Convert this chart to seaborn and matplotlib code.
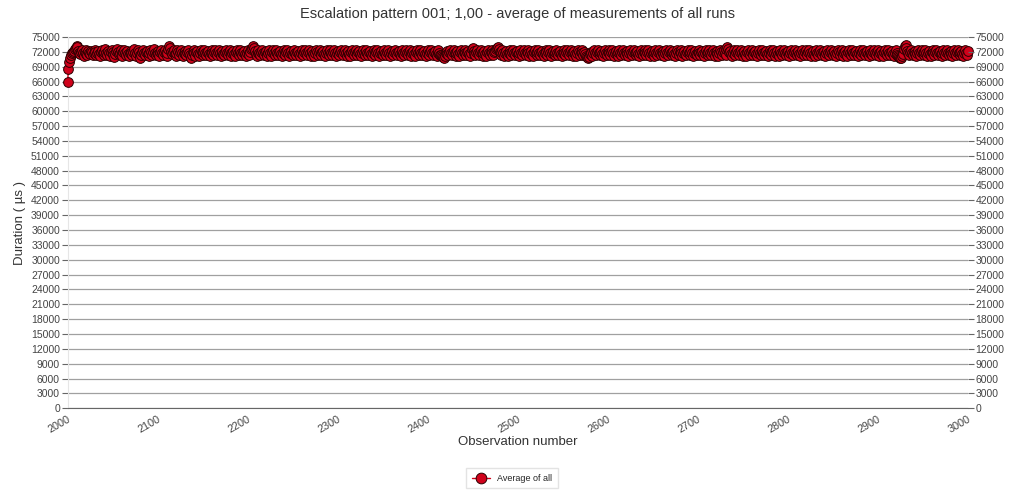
import numpy as np
import pandas as pd
import matplotlib
matplotlib.use("Agg")
import matplotlib.pyplot as plt
import seaborn as sns

# Average duration per observation, in units of 100 µs
duration_hundreds = [
    660, 685, 700, 708, 713, 717, 720, 722, 725, 728, 731, 729, 722, 718, 715, 720, 723, 717, 712, 719, 724, 716, 713, 721, 718,
    715, 722, 719, 713, 717, 724, 720, 714, 718, 722, 716, 711, 719, 723, 717, 713, 720, 725, 718, 714, 721, 717, 712, 720, 724,
    719, 713, 709, 716, 722, 726, 720, 715, 718, 723, 717, 712, 719, 724, 718, 714, 721, 716, 711, 718, 722, 717, 713, 720, 725,
    718, 712, 717, 723, 719, 714, 708, 713, 720, 724, 717, 713, 719, 722, 716, 711, 718, 723, 719, 714, 720, 725, 718, 713, 717,
    722, 716, 712, 719, 724, 718, 713, 720, 723, 717, 711, 718, 726, 731, 727, 720, 715, 719, 723, 716, 712, 718, 724, 719, 714,
    720, 723, 717, 712, 718, 722, 716, 713, 719, 724, 718, 714, 708, 713, 720, 723, 717, 712, 719, 722, 716, 711, 718, 723, 719,
    714, 720, 724, 718, 713, 719, 722, 716, 712, 718, 723, 717, 713, 720, 724, 718, 714, 719, 723, 717, 712, 718, 722, 716, 713,
    719, 724, 718, 714, 720, 723, 717, 712, 718, 722, 716, 711, 719, 724, 718, 713, 720, 723, 717, 713, 719, 722, 716, 712, 718,
    723, 717, 713, 720, 725, 728, 731, 727, 721, 716, 712, 718, 723, 717, 713, 719, 724, 718, 714, 720, 722, 716, 711, 718, 723,
    717, 712, 719, 724, 718, 714, 720, 723, 717, 713, 719, 722, 716, 711, 718, 724, 719, 714, 720, 723, 717, 712, 718, 722, 716,
    713, 719, 724, 718, 714, 720, 722, 716, 712, 718, 723, 717, 713, 719, 724, 718, 713, 720, 723, 717, 712, 719, 722, 716, 711,
    718, 723, 719, 714, 720, 724, 718, 713, 719, 722, 716, 712, 718, 723, 717, 713, 720, 724, 718, 714, 719, 723, 717, 712, 718,
    722, 716, 713, 719, 724, 718, 714, 720, 723, 717, 712, 718, 722, 716, 711, 719, 724, 718, 713, 720, 723, 717, 713, 719, 722,
    716, 712, 718, 723, 717, 714, 720, 724, 718, 713, 719, 722, 716, 712, 718, 724, 719, 714, 720, 723, 717, 712, 718, 722, 716,
    713, 719, 724, 718, 714, 720, 723, 717, 711, 718, 722, 716, 713, 719, 724, 718, 714, 720, 722, 716, 712, 718, 723, 717, 713,
    719, 724, 718, 714, 720, 723, 717, 712, 718, 722, 716, 711, 719, 724, 718, 713, 720, 723, 717, 713, 719, 722, 716, 712, 718,
    723, 717, 713, 719, 724, 718, 714, 720, 722, 716, 712, 718, 723, 717, 713, 714, 711, 709, 708, 712, 718, 722, 716, 713, 719,
    724, 718, 714, 720, 723, 717, 712, 718, 722, 716, 711, 719, 724, 718, 713, 720, 723, 717, 713, 719, 722, 716, 712, 718, 726,
    728, 722, 716, 713, 719, 724, 718, 714, 720, 723, 717, 712, 718, 722, 716, 711, 719, 724, 718, 713, 720, 723, 717, 713, 719,
    722, 725, 728, 730, 726, 719, 714, 720, 723, 717, 712, 718, 722, 716, 712, 718, 723, 717, 713, 719, 724, 718, 714, 720, 722,
    716, 712, 718, 723, 717, 713, 719, 724, 718, 713, 720, 723, 717, 712, 718, 722, 716, 711, 719, 724, 718, 714, 720, 723, 717,
    713, 719, 722, 716, 712, 718, 724, 719, 714, 720, 723, 717, 712, 718, 722, 716, 713, 719, 724, 718, 714, 720, 722, 716, 712,
    718, 723, 717, 713, 719, 724, 718, 713, 720, 723, 717, 712, 719, 722, 716, 711, 718, 723, 719, 714, 720, 724, 718, 713, 719,
    716, 711, 709, 707, 710, 715, 720, 717, 712, 718, 723, 717, 713, 719, 724, 718, 714, 720, 722, 716, 712, 718, 723, 717, 713,
    719, 724, 718, 714, 720, 723, 717, 712, 718, 722, 716, 711, 719, 724, 718, 713, 720, 723, 717, 713, 719, 722, 716, 712, 718,
    723, 717, 713, 719, 724, 718, 714, 720, 722, 716, 712, 718, 723, 717, 713, 719, 724, 718, 714, 720, 723, 717, 712, 718, 722,
    716, 711, 719, 724, 718, 713, 720, 723, 717, 713, 719, 722, 716, 712, 718, 723, 717, 714, 720, 724, 718, 713, 719, 722, 716,
    712, 718, 724, 719, 714, 720, 723, 717, 712, 718, 722, 716, 713, 719, 724, 718, 714, 720, 723, 717, 711, 718, 722, 716, 713,
    719, 724, 718, 714, 720, 722, 716, 712, 718, 723, 717, 713, 719, 724, 718, 713, 720, 723, 717, 712, 719, 722, 716, 711, 718,
    723, 719, 714, 720, 724, 718, 713, 726, 729, 725, 719, 722, 716, 712, 718, 723, 717, 713, 719, 724, 718, 714, 720, 723, 717,
    712, 718, 722, 716, 711, 719, 724, 718, 713, 720, 723, 717, 713, 719, 722, 716, 712, 718, 723, 717, 714, 720, 724, 718, 713,
    719, 722, 716, 712, 718, 724, 719, 714, 720, 723, 717, 712, 718, 722, 716, 711, 719, 724, 718, 713, 720, 723, 717, 713, 719,
    722, 716, 712, 718, 723, 717, 713, 719, 724, 718, 714, 720, 722, 716, 712, 718, 723, 717, 713, 719, 724, 718, 714, 720, 723,
    717, 712, 718, 722, 716, 711, 719, 724, 718, 713, 720, 723, 717, 713, 719, 722, 716, 712, 718, 723, 717, 714, 720, 724, 718,
    713, 719, 722, 716, 712, 718, 724, 719, 714, 720, 723, 717, 712, 718, 722, 716, 711, 719, 724, 718, 713, 720, 723, 717, 713,
    719, 722, 716, 712, 718, 723, 717, 713, 719, 724, 718, 714, 720, 722, 716, 712, 718, 723, 717, 713, 719, 724, 718, 714, 720,
    723, 717, 712, 718, 722, 716, 711, 719, 724, 718, 713, 720, 723, 717, 713, 719, 722, 716, 712, 718, 723, 717, 714, 712, 709,
    707, 708, 711, 716, 726, 731, 733, 728, 721, 717, 713, 719, 724, 718, 714, 720, 722, 716, 712, 718, 723, 717, 713, 719, 724,
    718, 714, 720, 723, 717, 712, 718, 722, 716, 711, 719, 724, 718, 713, 720, 723, 717, 713, 719, 722, 716, 712, 718, 723, 717,
    714, 720, 724, 718, 713, 719, 722, 716, 712, 718, 723, 717, 713, 719, 724, 718, 714, 720, 722, 716, 712, 718, 723, 717, 713,
    721,
]
first_observation = 2000

x_ticks = list(range(2000, 3001, 100))
y_ticks = list(range(0, 75001, 3000))

df = pd.DataFrame({
    "Observation number": np.arange(first_observation, first_observation + len(duration_hundreds)),
    "Duration": np.array(duration_hundreds) * 100,
})

sns.set_style("white")
plt.rcParams["font.family"] = ["Liberation Sans", "DejaVu Sans"]

fig = plt.figure(figsize=(10.24, 4.93), dpi=100)
ax = fig.add_axes([0.066, 0.172, 0.879, 0.753])

sns.lineplot(data=df, x="Observation number", y="Duration", ax=ax,
             color="#d0021b", linewidth=1, marker="o", markersize=7,
             markerfacecolor="#d0021b", markeredgecolor="#2a0000",
             markeredgewidth=0.7, label="Average of all", legend=False,
             zorder=3, clip_on=False)

ax.set_xlim(2000, 3000)
ax.set_ylim(0, 75000)
ax.set_xticks(x_ticks)
ax.set_yticks(y_ticks)
ax.set_xticklabels([str(t) for t in x_ticks], rotation=30, ha="right",
                   rotation_mode="anchor", fontsize=7.8, color="#444444")
ax.set_yticklabels([str(t) for t in y_ticks], fontsize=7.5, color="#444444")
ax.grid(axis="y", color="#a0a0a0", linewidth=0.9)
ax.grid(axis="x", visible=False)
ax.tick_params(axis="y", length=4, color="#666666", pad=1.5, left=True)
ax.tick_params(axis="x", length=0, pad=4)
for side in ["top", "right"]:
    ax.spines[side].set_visible(False)
ax.spines["left"].set_color("#e6e6e6")
ax.spines["bottom"].set_color("#666666")

ax.set_xlabel("Observation number", fontsize=9.5, color="#333333", labelpad=1)
ax.set_ylabel("Duration ( µs )", fontsize=9.5, color="#333333")
ax.yaxis.set_label_coords(-0.046, 0.5)
ax.set_title("Escalation pattern 001; 1,00 - average of measurements of all runs",
             fontsize=10.5, color="#333333", pad=14)

ax2 = ax.twinx()
ax2.set_ylim(0, 75000)
ax2.set_yticks(y_ticks)
ax2.set_yticklabels([str(t) for t in y_ticks], fontsize=7.5, color="#444444")
ax2.tick_params(axis="y", length=4, color="#666666", pad=1.5)
for side in ["top", "left", "bottom", "right"]:
    ax2.spines[side].set_visible(False)

handles, labels = ax.get_legend_handles_labels()
fig.legend(handles, labels, loc="center", bbox_to_anchor=(0.5, 0.03),
           fontsize=6.5, frameon=True, fancybox=False, edgecolor="#dddddd",
           handlelength=2.0, markerscale=1.1, borderpad=0.6)

fig.savefig("out.png", dpi=100)
